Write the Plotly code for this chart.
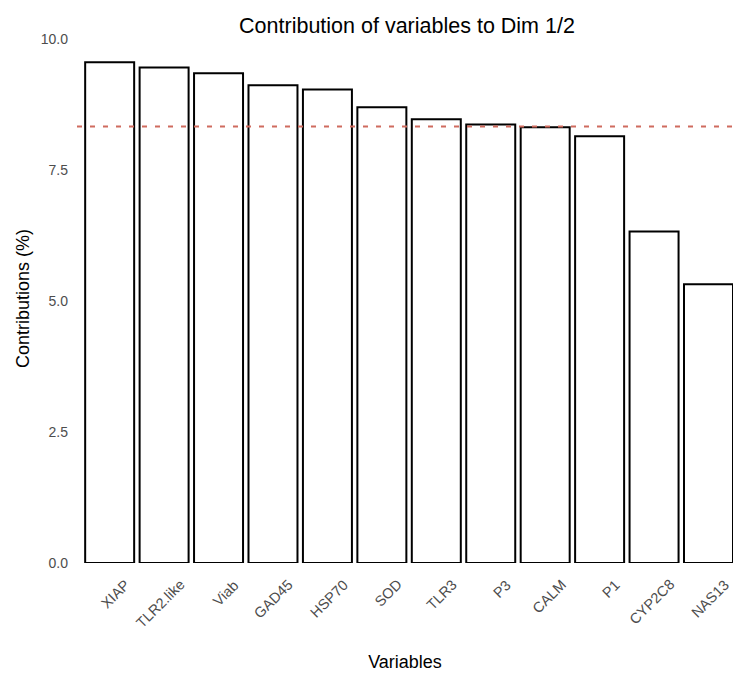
import plotly.graph_objects as go

# Contribution (%) of each variable to the first two dimensions
variables = ["XIAP", "TLR2.like", "Viab", "GAD45", "HSP70", "SOD",
             "TLR3", "P3", "CALM", "P1", "CYP2C8", "NAS13"]
contributions = [9.56, 9.46, 9.35, 9.12, 9.04, 8.70,
                 8.47, 8.37, 8.32, 8.15, 6.33, 5.32]
y_ticks = [0.0, 2.5, 5.0, 7.5, 10.0]

# reference line: expected contribution if all variables were uniform
expected = 100 / len(variables)

FONT = "Liberation Sans, Arial, sans-serif"
TICK_GREY = "#4d4d4d"

fig = go.Figure()
fig.add_trace(go.Bar(
    x=list(range(len(variables))),
    y=contributions,
    width=0.9,
    marker=dict(color="white", line=dict(color="black", width=2)),
    hoverinfo="skip",
))

# dashed horizontal line across the panel
fig.add_shape(
    type="line", xref="paper", x0=0, x1=1, yref="y", y0=expected, y1=expected,
    line=dict(color="#cf6b5e", width=2, dash="5px,8px"), layer="above",
)

# rotated category labels
for i, name in enumerate(variables):
    fig.add_annotation(
        x=i, y=0, xref="x", yref="y", text=name, showarrow=False,
        textangle=-45, xanchor="right", yanchor="top",
        xshift=26, yshift=-11,
        font=dict(family=FONT, size=14.5, color=TICK_GREY),
    )

fig.update_layout(
    width=733, height=679,
    margin=dict(l=77, r=0, t=34, b=116),
    paper_bgcolor="white", plot_bgcolor="white",
    showlegend=False,
    font=dict(family=FONT, color="black"),
    title=dict(
        text="Contribution of variables to Dim 1/2",
        x=407 / 733, xanchor="center", xref="container",
        y=1 - 25 / 679, yanchor="middle", yref="container",
        font=dict(family=FONT, size=21.5, color="black"),
    ),
    xaxis=dict(
        range=[-0.6, 11.45], showticklabels=False, showgrid=False,
        zeroline=False, showline=False, ticks="",
        title=dict(text="Variables", standoff=92,
                   font=dict(family=FONT, size=18, color="black")),
    ),
    yaxis=dict(
        range=[0, 10.1], tickvals=y_ticks, tickformat=".1f",
        showgrid=False, zeroline=False, showline=False, ticks="",
        ticklabelstandoff=8,
        tickfont=dict(family=FONT, size=14, color=TICK_GREY),
        title=dict(text="Contributions (%)", standoff=6,
                   font=dict(family=FONT, size=18, color="black")),
    ),
)

fig.write_html("out.html")
